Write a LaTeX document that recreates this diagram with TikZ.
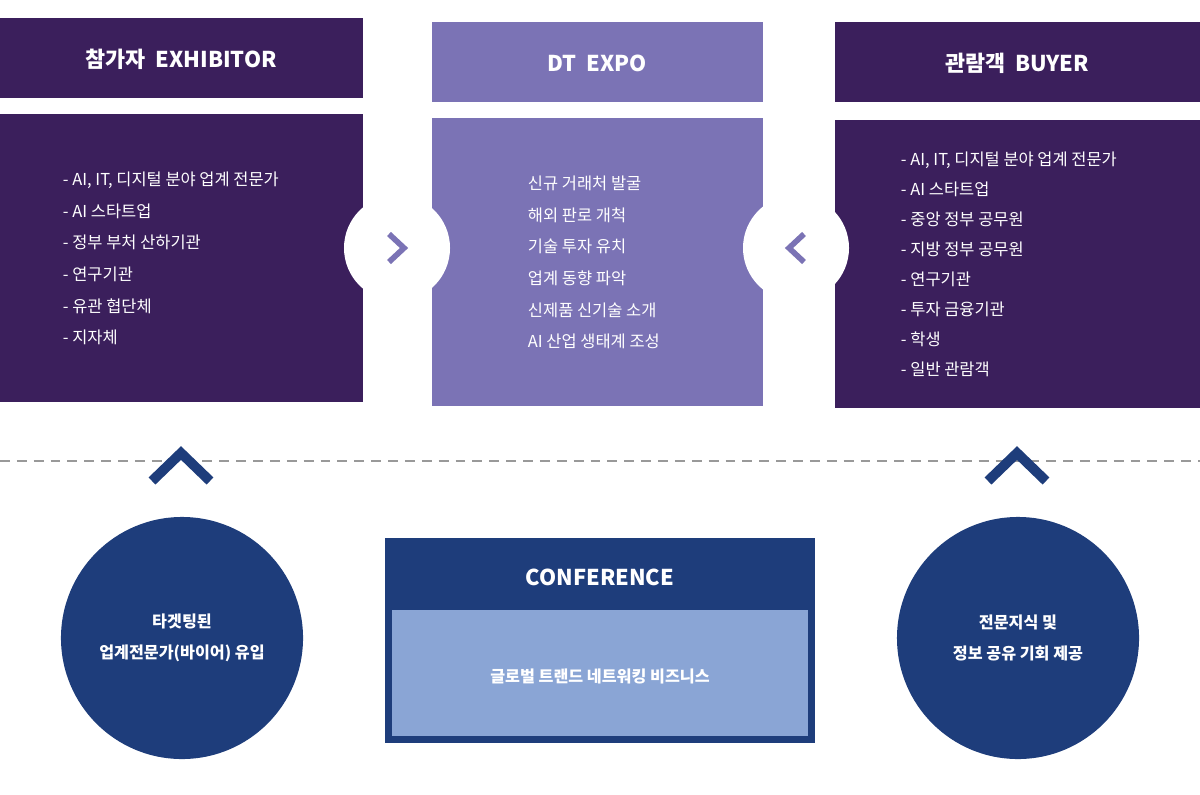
\documentclass[tikz,border=0pt]{standalone}
\usepackage{fontspec}
\setmainfont{Noto Sans CJK KR}
\usetikzlibrary{positioning}
\definecolor{exhib}{HTML}{3B1F5C}
\definecolor{expo}{HTML}{7B73B5}
\definecolor{navy}{HTML}{1E3D7B}
\definecolor{lightconf}{HTML}{8AA5D5}

\begin{document}
\begin{tikzpicture}[
    x=0.025cm, y=-0.025cm,
    head/.style={text=white, font=\fontsize{15.5}{18}\selectfont\bfseries},
    list/.style={text=white, font=\fontsize{11.7}{22.5}\selectfont, align=left, anchor=north west},
    badge/.style={circle, fill=white, minimum size=2.65cm, inner sep=0pt},
    chev/.style={draw=expo, line width=4pt, fill=none},
    up/.style={draw=navy, line width=7pt},
    round/.style={circle, fill=navy, minimum size=6.05cm, inner sep=0pt, text=white, align=center, font=\fontsize{11.5}{22}\selectfont\bfseries}
]
\useasboundingbox (0,0) rectangle (1200,794);

% Exhibitor
\fill[exhib] (0,18) rectangle (363,98);
\node[head] (exhead) at (181,59) {참가자 \ EXHIBITOR};
\fill[exhib] (0,114) rectangle (363,402);
\node[list] (exlist) at (58,167) {- AI, IT, 디지털 분야 업계 전문가\\- AI 스타트업\\- 정부 부처 산하기관\\- 연구기관\\- 유관 협단체\\- 지자체};

% Expo
\fill[expo] (432,22) rectangle (763,102);
\node[head] (expohead) at (597,63) {DT \ EXPO};
\fill[expo] (432,118) rectangle (763,406);
\node[list] (expolist) at (523,171) {신규 거래처 발굴\\해외 판로 개척\\기술 투자 유치\\업계 동향 파악\\신제품 신기술 소개\\AI 산업 생태계 조성};

% Buyer
\fill[exhib] (835,22) rectangle (1200,102);
\node[head] (buyhead) at (1017,63) {관람객 \ BUYER};
\fill[exhib] (835,120) rectangle (1200,408);
\node[list, font=\fontsize{11.7}{21.3}\selectfont] (buylist) at (896,147) {- AI, IT, 디지털 분야 업계 전문가\\- AI 스타트업\\- 중앙 정부 공무원\\- 지방 정부 공무원\\- 연구기관\\- 투자 금융기관\\- 학생\\- 일반 관람객};

% badges
\node[badge] (lbadge) at (397,248) {};
\draw[chev] (389,234) -- (404,248) -- (389,262);
\node[badge] (rbadge) at (796,248) {};
\draw[chev] (804,234) -- (789,248) -- (804,262);

% divider
\draw[gray!80, line width=1.5pt, dash pattern=on 7pt off 5pt] (0,461) -- (1200,461);
\draw[up] (152,481) -- (181,453) -- (210,481);
\draw[up] (988,481) -- (1017,453) -- (1046,481);

% circles
\node[round] (target) at (182,638) {타겟팅된\\업계전문가(바이어) 유입};
\node[round] (share) at (1018,638) {전문지식 및\\정보 공유 기회 제공};

% conference
\fill[navy] (385,538) rectangle (815,743);
\fill[lightconf] (392,610) rectangle (808,736);
\node[head] (confhead) at (600,577) {CONFERENCE};
\node[text=white, font=\fontsize{11.5}{14}\selectfont\bfseries] (conftext) at (600,676) {글로벌 트랜드 네트워킹 비즈니스};
\end{tikzpicture}
\end{document}
